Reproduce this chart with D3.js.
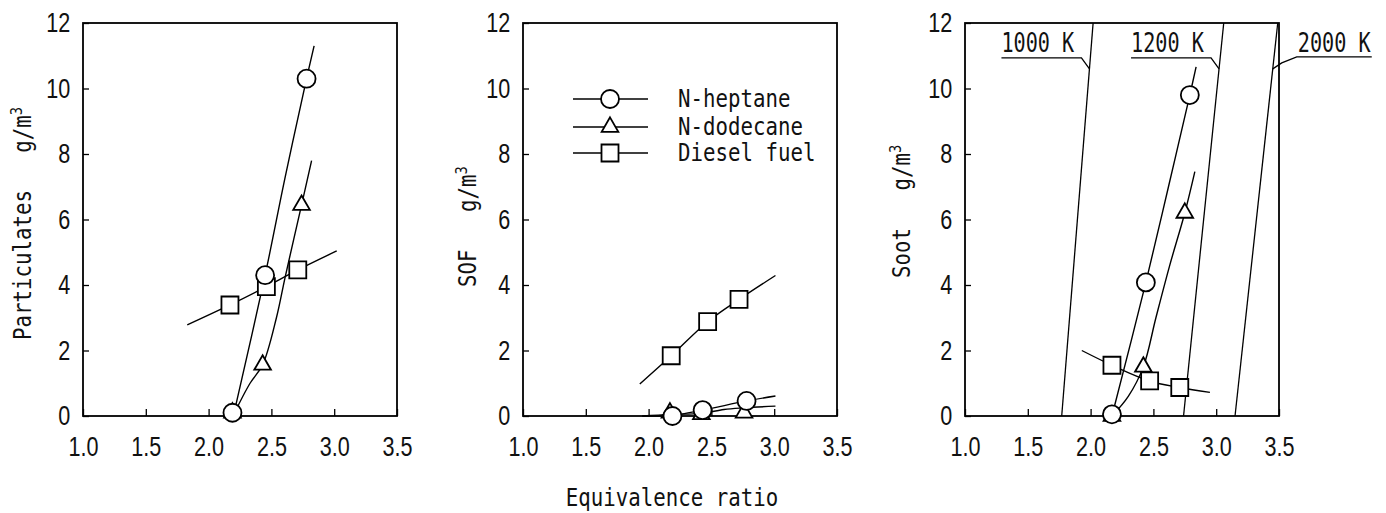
<!DOCTYPE html>
<html>
<head>
<meta charset="utf-8">
<script src="https://cdn.jsdelivr.net/npm/d3@7"></script>
<style>
body{margin:0;background:#fff;}
</style>
</head>
<body>
<div id="chart"></div>
<script>
//axis values and labels
const xTicks = [1.0, 1.5, 2.0, 2.5, 3.0, 3.5];
const yTicks = [0, 2, 4, 6, 8, 10, 12];
const seriesNames = ["N-heptane", "N-dodecane", "Diesel fuel"];
const seriesShapes = ["circle", "triangle", "square"];
const panelTitles = ["Particulates", "SOF", "Soot"];
const unitBase = "g/m";
const unitExp = "3";
const xTitle = "Equivalence ratio";

//particulates: measured points and the fitted curves drawn through them
const partHeptane = [[2.19, 0.1], [2.45, 4.3], [2.78, 10.3]];
const partHeptaneCurve = [[2.2, 0.05], [2.45, 4.3], [2.61, 7.3], [2.78, 10.3], [2.84, 11.3]];
const partDodecane = [[2.19, 0.1], [2.43, 1.56], [2.74, 6.44]];
const partDodecaneCurve = [[2.2, 0.05], [2.33, 1.0], [2.43, 1.56], [2.54, 3.0], [2.61, 4.25], [2.74, 6.44], [2.82, 7.8]];
const partDiesel = [[2.17, 3.39], [2.46, 3.95], [2.71, 4.46]];
const partDieselCurve = [[1.83, 2.78], [2.17, 3.39], [2.46, 3.95], [2.71, 4.46], [3.02, 5.04]];

//SOF
const sofHeptane = [[2.19, 0.0], [2.43, 0.18], [2.78, 0.46]];
const sofHeptaneCurve = [[1.95, 0.0], [2.19, 0.02], [2.43, 0.18], [2.78, 0.46], [3.01, 0.61]];
const sofDodecane = [[2.17, 0.1], [2.42, 0.05], [2.76, 0.1]];
const sofDodecaneCurve = [[1.95, 0.0], [2.17, 0.05], [2.42, 0.08], [2.6, 0.2], [2.76, 0.25], [3.01, 0.3]];
const sofDiesel = [[2.18, 1.84], [2.47, 2.88], [2.72, 3.56]];
const sofDieselCurve = [[1.93, 0.98], [2.18, 1.84], [2.47, 2.88], [2.72, 3.56], [3.01, 4.29]];

//soot
const sootHeptane = [[2.17, 0.05], [2.44, 4.08], [2.79, 9.8]];
const sootHeptaneCurve = [[2.17, 0.0], [2.44, 4.08], [2.62, 7.0], [2.79, 9.8], [2.84, 10.66]];
const sootDodecane = [[2.17, 0.0], [2.42, 1.5], [2.75, 6.2]];
const sootDodecaneCurve = [[2.17, 0.0], [2.3, 0.6], [2.42, 1.5], [2.52, 3.0], [2.63, 4.6], [2.75, 6.2], [2.83, 7.46]];
const sootDiesel = [[2.17, 1.55], [2.47, 1.07], [2.71, 0.87]];
const sootDieselCurve = [[1.93, 2.0], [2.17, 1.55], [2.47, 1.07], [2.71, 0.87], [2.95, 0.72]];

//flame temperature lines in the soot panel
const tempLabels = ["1000 K", "1200 K", "2000 K"];
const tempBottomX = [1.77, 2.74, 3.15];
const tempTopX = [2.02, 3.06, 3.49];
const tempLabelSide = ["left", "left", "right"];
const tempLabelY = 10.6;

//set dimensions
const width = 1386, height = 513;
const panelLeft = [83, 523, 965];
const plotW = 314, plotTop = 23, plotBottom = 416;
const titleX = [-52, -47, -55];
const titleY = [340, 287, 278];

const labelFont = "'DejaVu Sans Mono', 'Liberation Mono', monospace";
const tickFont = "'Liberation Sans', Arial, sans-serif";

const panels = [
    {points: [partHeptane, partDodecane, partDiesel], curves: [partHeptaneCurve, partDodecaneCurve, partDieselCurve]},
    {points: [sofHeptane, sofDodecane, sofDiesel], curves: [sofHeptaneCurve, sofDodecaneCurve, sofDieselCurve]},
    {points: [sootHeptane, sootDodecane, sootDiesel], curves: [sootHeptaneCurve, sootDodecaneCurve, sootDieselCurve]}
];

let svg = d3.select('#chart')
    .append('svg')
        .attr("width", width)
        .attr("height", height)
        .style("background", "#fff");

function marker(shape){
    let type = d3.symbolCircle, size = Math.PI * 81;
    if (shape == "triangle") { type = d3.symbolTriangle; size = 120; }
    if (shape == "square") { type = d3.symbolSquare; size = 289; }
    return d3.symbol().type(type).size(size)();
}

panels.forEach(function(p, i){
    let x = d3.scaleLinear().domain([1.0, 3.5]).range([0, plotW]);
    let y = d3.scaleLinear().domain([0, 12]).range([plotBottom - plotTop, 0]);
    let h = plotBottom - plotTop;

    let g = svg.append('g')
        .attr("transform", "translate(" + panelLeft[i] + "," + plotTop + ")");

    //x axis with inward ticks
    let xaxis = g.append('g')
        .attr("transform", "translate(0," + h + ")")
        .call(d3.axisBottom(x).tickValues(xTicks).tickFormat(d3.format(".1f"))
            .tickSizeInner(-7).tickSizeOuter(0).tickPadding(21));
    xaxis.select(".domain").remove();
    xaxis.selectAll(".tick line").attr("stroke", "#000").attr("stroke-width", 1.3);
    xaxis.selectAll(".tick text")
        .attr("font-family", tickFont)
        .attr("font-size", 27)
        .attr("fill", "#111")
        .attr("transform", "scale(0.8,1)");

    //y axis
    let yaxis = g.append('g')
        .call(d3.axisLeft(y).tickValues(yTicks).tickFormat(d3.format("d"))
            .tickSizeInner(-6).tickSizeOuter(0).tickPadding(16));
    yaxis.select(".domain").remove();
    yaxis.selectAll(".tick line").attr("stroke", "#000").attr("stroke-width", 1.3);
    yaxis.selectAll(".tick text")
        .attr("font-family", tickFont)
        .attr("font-size", 27)
        .attr("fill", "#111")
        .attr("transform", "scale(0.8,1)");

    //frame
    g.append('rect')
        .attr("x", 0).attr("y", 0)
        .attr("width", plotW).attr("height", h)
        .attr("fill", "none")
        .attr("stroke", "#000")
        .attr("stroke-width", 1.8);

    //y axis title
    let title = g.append("text")
        .attr("transform", "translate(" + titleX[i] + "," + (titleY[i] - plotTop) + ") rotate(-90) scale(0.865,1)")
        .attr("font-family", labelFont)
        .attr("font-size", 24)
        .attr("fill", "#111")
        .attr("xml:space", "preserve")
        .style("white-space", "pre");
    title.append("tspan").text(panelTitles[i] + "   " + unitBase);
    title.append("tspan").attr("font-size", 16).attr("dy", -9).text(unitExp);

    //temperature lines (soot panel)
    if (i == 2) {
        tempLabels.forEach(function(lab, k){
            g.append("line")
                .attr("x1", x(tempBottomX[k])).attr("y1", y(0))
                .attr("x2", x(tempTopX[k])).attr("y2", y(12))
                .attr("stroke", "#000").attr("stroke-width", 1.3);
            let ax = x(tempBottomX[k] + (tempTopX[k] - tempBottomX[k]) * tempLabelY / 12);
            let ay = y(tempLabelY);
            let pts, tx;
            if (tempLabelSide[k] == "left") {
                pts = [[ax, ay], [ax - 8, ay - 11], [ax - 88, ay - 11]];
                tx = ax - 88;
            } else {
                pts = [[ax, ay], [ax + 9, ay - 6], [ax + 24, ay - 12], [ax + 99, ay - 12]];
                tx = ax + 25;
            }
            g.append("path")
                .attr("d", d3.line()(pts))
                .attr("fill", "none")
                .attr("stroke", "#000").attr("stroke-width", 1.3);
            g.append("text")
                .attr("transform", "translate(" + tx + "," + (ay - 17) + ") scale(0.84,1.1)")
                .attr("font-family", labelFont)
                .attr("font-size", 24)
                .attr("fill", "#111")
                .attr("xml:space", "preserve")
                .style("white-space", "pre")
                .text(lab);
        });
    }

    //curves
    let line = d3.line()
        .x(function(d){ return x(d[0]); })
        .y(function(d){ return y(d[1]); })
        .curve(d3.curveCatmullRom.alpha(0.5));

    //draw diesel first so circles sit on top
    [2, 1, 0].forEach(function(s){
        g.append("path")
            .attr("d", line(p.curves[s]))
            .attr("fill", "none")
            .attr("stroke", "#000")
            .attr("stroke-width", 1.4);
    });
    [2, 1, 0].forEach(function(s){
        g.selectAll(null)
            .data(p.points[s])
            .enter().append("path")
                .attr("transform", function(d){ return "translate(" + x(d[0]) + "," + y(d[1]) + ")"; })
                .attr("d", marker(seriesShapes[s]))
                .attr("fill", "#fff")
                .attr("stroke", "#000")
                .attr("stroke-width", 1.8);
    });

    //legend in the middle panel
    if (i == 1) {
        let rowY = [99, 127, 153];
        seriesNames.forEach(function(name, s){
            let ly = rowY[s] - plotTop;
            g.append("line")
                .attr("x1", 50).attr("x2", 125)
                .attr("y1", ly).attr("y2", ly)
                .attr("stroke", "#000").attr("stroke-width", 1.4);
            g.append("path")
                .attr("transform", "translate(87," + ly + ")")
                .attr("d", marker(seriesShapes[s]))
                .attr("fill", "#fff")
                .attr("stroke", "#000")
                .attr("stroke-width", 1.8);
            g.append("text")
                .attr("transform", "translate(155," + (ly + 8) + ") scale(0.865,1)")
                .attr("font-family", labelFont)
                .attr("font-size", 24)
                .attr("fill", "#111")
                .attr("xml:space", "preserve")
                .style("white-space", "pre")
                .text(name);
        });
    }
});

//shared x axis title
svg.append("text")
    .attr("transform", "translate(672,506) scale(0.865,1)")
    .attr("text-anchor", "middle")
    .attr("font-family", labelFont)
    .attr("font-size", 24)
    .attr("fill", "#111")
    .text(xTitle);
</script>
</body>
</html>
